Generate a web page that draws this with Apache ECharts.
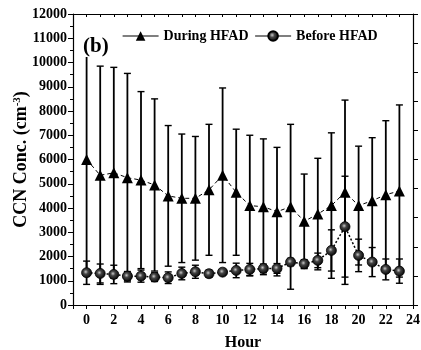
<!DOCTYPE html>
<html>
<head>
<meta charset="utf-8">
<script src="https://cdn.jsdelivr.net/npm/echarts@6/dist/echarts.min.js"></script>
<style>
html, body { margin: 0; padding: 0; background: #fff; }
#chart-0 { width: 421px; height: 350px; }
</style>
</head>
<body>
<div id="chart-0"></div>
<script>
var hours = [0, 1, 2, 3, 4, 5, 6, 7, 8, 9, 10, 11, 12, 13, 14, 15, 16, 17, 18, 19, 20, 21, 22, 23];
var duringMean = [6000, 5350, 5450, 5250, 5150, 4950, 4500, 4400, 4400, 4750, 5350, 4650, 4100, 4050, 3850, 4050, 3450, 3750, 4100, 4650, 4100, 4300, 4550, 4700];
var duringErr = [4550, 4500, 4350, 4300, 3650, 3550, 2900, 2650, 2550, 2700, 3600, 2600, 2900, 2800, 2650, 3400, 1950, 2300, 3000, 3800, 2450, 2600, 3050, 3550];
var beforeMean = [1330, 1300, 1260, 1190, 1190, 1150, 1125, 1300, 1370, 1290, 1355, 1425, 1467, 1508, 1508, 1770, 1700, 1840, 2250, 3230, 2045, 1770, 1467, 1397];
var beforeErr = [480, 390, 380, 190, 250, 180, 240, 260, 270, 150, 100, 300, 250, 180, 200, 150, 170, 300, 850, 2080, 670, 600, 430, 500];

var chart = echarts.init(document.getElementById('chart-0'));
var font = 'Liberation Serif';

function pairs(mean) {
    return hours.map(function(h, i) { return [h, mean[i]]; });
}
function bars(mean, err) {
    return hours.map(function(h, i) { return [h, mean[i] - err[i], mean[i] + err[i]]; });
}

var ErrorSeries = function(name, data, z) {
    return {
        name: name,
        type: 'custom',
        z: z,
        data: data,
        encode: { x: 0, y: [1, 2] },
        renderItem: function(params, api) {
            var lo = api.coord([api.value(0), api.value(1)]);
            var hi = api.coord([api.value(0), api.value(2)]);
            var w = 3.5;
            return {
                type: 'group',
                children: [
                    { type: 'line', shape: { x1: lo[0], y1: lo[1], x2: hi[0], y2: hi[1] }, style: { stroke: '#000', lineWidth: 1.8 } },
                    { type: 'line', shape: { x1: lo[0] - w, y1: lo[1], x2: lo[0] + w, y2: lo[1] }, style: { stroke: '#000', lineWidth: 1.4 } },
                    { type: 'line', shape: { x1: hi[0] - w, y1: hi[1], x2: hi[0] + w, y2: hi[1] }, style: { stroke: '#000', lineWidth: 1.4 } }
                ]
            };
        }
    };
};

// dark sphere look of the "Before" markers
var ball = {
    type: 'radial', x: 0.42, y: 0.42, r: 0.6,
    colorStops: [
        { offset: 0, color: '#c8c8c8' },
        { offset: 0.35, color: '#444' },
        { offset: 1, color: '#000' }
    ]
};

var option = {
    animation: false,
    grid: { left: 73, right: 8, top: 14, bottom: 45, outerBoundsMode: 'none' },
    textStyle: { fontFamily: font },
    legend: {
        data: ['During HFAD', 'Before HFAD'],
        left: 117,
        top: 24,
        itemWidth: 36,
        itemHeight: 12,
        itemGap: 6,
        lineStyle: { type: 'solid', width: 1.2 },
        textStyle: { fontFamily: font, fontWeight: 'bold', fontSize: 14, color: '#000' }
    },
    graphic: [{
        type: 'text',
        left: 83,
        top: 36,
        z: 10,
        style: { text: '(b)', fontFamily: font, fontWeight: 'bold', fontSize: 21, fill: '#000', backgroundColor: '#fff' }
    }],
    xAxis: [{
        type: 'value',
        min: -1,
        max: 24,
        interval: 1,
        name: 'Hour',
        nameLocation: 'middle',
        nameGap: 30,
        nameTextStyle: { fontFamily: font, fontWeight: 'bold', fontSize: 16, color: '#000' },
        splitLine: { show: false },
        axisLine: { onZero: false, lineStyle: { color: '#000', width: 1.2 } },
        axisTick: { length: 4, lineStyle: { color: '#000' } },
        axisLabel: {
            color: '#000', fontFamily: font, fontWeight: 'bold', fontSize: 14, margin: 8,
            formatter: function(v) { return (v >= 0 && v % 2 === 0) ? String(v) : ''; }
        }
    }, {
        type: 'value',
        position: 'top',
        min: -1,
        max: 24,
        interval: 1,
        splitLine: { show: false },
        axisLine: { onZero: false, lineStyle: { color: '#000', width: 1.2 } },
        axisTick: { inside: true, length: 3, lineStyle: { color: '#000' } },
        axisLabel: { show: false }
    }],
    yAxis: [{
        type: 'value',
        min: 0,
        max: 12000,
        interval: 1000,
        name: 'CCN Conc. (cm{s|-3})',
        nameLocation: 'middle',
        nameGap: 43,
        nameMoveOverlap: false,
        nameTextStyle: {
            fontFamily: font, fontWeight: 'bold', fontSize: 18, color: '#000',
            rich: { s: { fontFamily: font, fontWeight: 'bold', fontSize: 11, color: '#000', verticalAlign: 'top' } }
        },
        splitLine: { show: false },
        axisLine: { show: true, onZero: false, lineStyle: { color: '#000', width: 1.2 } },
        axisTick: { length: 5, lineStyle: { color: '#000' } },
        minorTick: { show: true, splitNumber: 2, length: 3, lineStyle: { color: '#000' } },
        axisLabel: {
            color: '#000', fontFamily: font, fontWeight: 'bold', fontSize: 14, margin: 6,
            formatter: function(v) { return String(v); }
        }
    }, {
        type: 'value',
        position: 'right',
        min: 0,
        max: 12000,
        interval: 1200,
        splitLine: { show: false },
        axisLine: { show: true, onZero: false, lineStyle: { color: '#000', width: 1.2 } },
        axisTick: { length: 5, lineStyle: { color: '#000' } },
        axisLabel: { show: false }
    }],
    series: [
        ErrorSeries('During err', bars(duringMean, duringErr), 2),
        {
            name: 'During HFAD',
            type: 'line',
            z: 3,
            data: pairs(duringMean),
            symbol: 'triangle',
            symbolSize: 11,
            itemStyle: { color: '#000' },
            lineStyle: { color: '#000', width: 1, type: [4, 3] }
        },
        ErrorSeries('Before err', bars(beforeMean, beforeErr), 4),
        {
            name: 'Before HFAD',
            type: 'line',
            z: 5,
            data: pairs(beforeMean),
            symbol: 'circle',
            symbolSize: 10,
            itemStyle: { color: ball, borderColor: '#000', borderWidth: 0.8 },
            lineStyle: { color: '#000', width: 1.5, type: [2, 2] }
        }
    ]
};
chart.setOption(option);
</script>
</body>
</html>
